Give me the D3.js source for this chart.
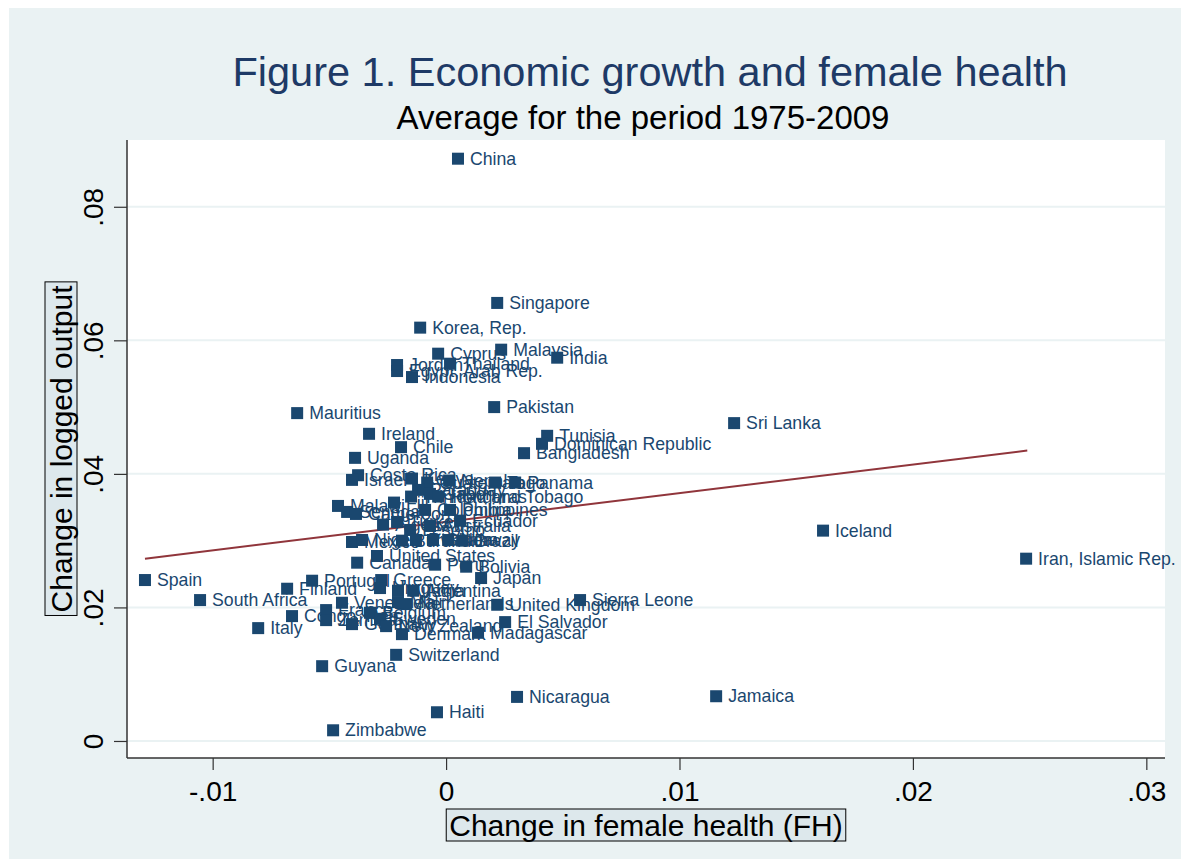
<!DOCTYPE html>
<html lang="en">
<head>
<meta charset="utf-8">
<title>Figure 1</title>
<script src="https://cdn.jsdelivr.net/npm/d3@7"></script>
<style>
  body { margin: 0; background: #fff; }
  text { font-family: "Liberation Sans", Arial, sans-serif; }
</style>
</head>
<body>
<div id="chart"></div>
<script type="text/javascript">
// country labels, change in female health (x), change in logged output (y)
var countries = ["China","Singapore","Korea, Rep.","Malaysia","India","Cyprus","Jordan","Egypt, Arab Rep.","Thailand","Indonesia",
  "Pakistan","Sri Lanka","Mauritius","Ireland","Tunisia","Dominican Republic","Chile","Bangladesh","Uganda","Costa Rica",
  "Israel","Kenya","Guatemala","Nepal","Togo","Panama","Paraguay","Gabon","Trinidad and Tobago","Honduras",
  "Malawi","Fiji","Philippines","Colombia","Senegal","Cameroon","Ecuador","Algeria","Turkey","Australia",
  "Lesotho","Mexico","Niger","Brazil","Norway","Burundi","Rwanda","Ghana","United States","Canada",
  "Peru","Bolivia","Japan","Spain","Portugal","Greece","Finland","Uruguay","Argentina","Austria",
  "South Africa","Sierra Leone","Venezuela","Netherlands","Mali","United Kingdom","France","Belgium","Congo, Rep.","Sweden",
  "Germany","Zambia","New Zealand","El Salvador","Italy","Madagascar","Denmark","Switzerland","Guyana","Nicaragua",
  "Jamaica","Haiti","Zimbabwe","Iceland","Iran, Islamic Rep."];
var fhChange = [0.00051,0.00219,-0.00111,0.00236,0.00476,-0.00034,-0.00210,-0.00210,0.00017,-0.00146,
  0.00206,0.01234,-0.00638,-0.00330,0.00433,0.00411,-0.00193,0.00334,-0.00390,-0.00377,
  -0.00403,-0.00146,-0.00081,0.00013,0.00210,0.00296,-0.00120,-0.00069,-0.00150,-0.00034,
  -0.00463,-0.00223,0.00017,-0.00090,-0.00424,-0.00386,0.00060,-0.00270,-0.00210,-0.00069,
  -0.00154,-0.00403,-0.00360,0.00069,0.00009,-0.00189,-0.00129,-0.00056,-0.00296,-0.00381,
  -0.00047,0.00086,0.00150,-0.01290,-0.00574,-0.00278,-0.00681,-0.00283,-0.00141,-0.00206,
  -0.01054,0.00574,-0.00446,-0.00171,-0.00206,0.00219,-0.00514,-0.00326,-0.00660,-0.00283,
  -0.00403,-0.00514,-0.00257,0.00253,-0.00805,0.00137,-0.00189,-0.00214,-0.00531,0.00304,
  0.01157,-0.00039,-0.00484,0.01615,0.02485];
var outputChange = [0.0872,0.0656,0.0619,0.0586,0.0574,0.0580,0.0563,0.0554,0.0565,0.0545,
  0.0500,0.0476,0.0491,0.0460,0.0457,0.0445,0.0440,0.0431,0.0424,0.0398,
  0.0391,0.0393,0.0387,0.0390,0.0387,0.0387,0.0376,0.0370,0.0366,0.0366,
  0.0352,0.0357,0.0346,0.0346,0.0343,0.0340,0.0330,0.0324,0.0328,0.0322,
  0.0316,0.0298,0.0301,0.0300,0.0301,0.0300,0.0301,0.0301,0.0277,0.0267,
  0.0264,0.0261,0.0244,0.0241,0.0240,0.0241,0.0228,0.0229,0.0225,0.0225,
  0.0211,0.0211,0.0207,0.0205,0.0208,0.0204,0.0196,0.0192,0.0187,0.0183,
  0.0175,0.0181,0.0172,0.0178,0.0169,0.0162,0.0160,0.0129,0.0112,0.0066,
  0.0067,0.0043,0.0016,0.0315,0.0273];
// fitted line endpoints
var fitX = [-0.0129, 0.0249];
var fitY = [0.0273, 0.0435];
var xTicks = [-0.01, 0, 0.01, 0.02, 0.03];
var xTickLabels = ["-.01", "0", ".01", ".02", ".03"];
var yTicks = [0, 0.02, 0.04, 0.06, 0.08];
var yTickLabels = ["0", ".02", ".04", ".06", ".08"];

(function() {
var W = 1189, H = 867;
var pLeft = 127, pRight = 1165, pTop = 140, pBottom = 758;
var navy = "#1a476f", bg = "#eaf2f3";

var svg = d3.select("#chart").append("svg")
    .attr("width", W).attr("height", H);

svg.append("rect")
    .attr("x", 9).attr("y", 8)
    .attr("width", W - 17).attr("height", H - 16)
    .attr("fill", bg);

var x = d3.scaleLinear().domain([-0.01367, 0.0308]).range([pLeft, pRight]);
var y = d3.scaleLinear().domain([-0.00255, 0.0900]).range([pBottom, pTop]);

svg.append("rect")
    .attr("x", pLeft).attr("y", pTop)
    .attr("width", pRight - pLeft).attr("height", pBottom - pTop)
    .attr("fill", "#fff");

// gridlines
svg.append("g").selectAll("line")
    .data(yTicks)
    .enter().append("line")
    .attr("x1", pLeft).attr("x2", pRight)
    .attr("y1", function(d) { return y(d); })
    .attr("y2", function(d) { return y(d); })
    .attr("stroke", bg).attr("stroke-width", 2);

// axes
var xAxis = d3.axisBottom(x).tickValues(xTicks).tickSize(12).tickPadding(11)
    .tickFormat(function(d, i) { return xTickLabels[i]; });
var gx = svg.append("g").attr("transform", "translate(0," + pBottom + ")").call(xAxis);
gx.select(".domain").attr("d", "M" + pLeft + ",0H" + pRight).attr("stroke", "#333").attr("stroke-width", 1.5);
gx.selectAll(".tick line").attr("stroke", "#333").attr("stroke-width", 1.2);
gx.selectAll(".tick text")
    .attr("font-size", 28).attr("fill", "#000")
    .attr("font-family", "Liberation Sans, Arial, sans-serif");

var yAxis = d3.axisLeft(y).tickValues(yTicks).tickSize(13).tickPadding(0)
    .tickFormat(function(d, i) { return yTickLabels[i]; });
var gy = svg.append("g").attr("transform", "translate(" + pLeft + ",0)").call(yAxis);
gy.select(".domain").attr("d", "M0," + pTop + "V" + pBottom).attr("stroke", "#333").attr("stroke-width", 1.5);
gy.selectAll(".tick line").attr("stroke", "#333").attr("stroke-width", 1.2);
gy.selectAll(".tick text")
    .attr("x", 0).attr("dy", null)
    .attr("transform", "translate(-24,0) rotate(-90)")
    .attr("text-anchor", "middle")
    .attr("font-size", 28).attr("fill", "#000")
    .attr("font-family", "Liberation Sans, Arial, sans-serif");

// fitted line
svg.append("path")
    .datum(d3.zip(fitX, fitY))
    .attr("d", d3.line().x(function(d) { return x(d[0]); }).y(function(d) { return y(d[1]); }))
    .attr("stroke", "#90353b").attr("stroke-width", 2).attr("fill", "none");

// points with labels
var pts = countries.map(function(c, i) { return { name: c, fh: fhChange[i], out: outputChange[i] }; });
var pt = svg.append("g").selectAll("g")
    .data(pts)
    .enter().append("g")
    .attr("transform", function(d) { return "translate(" + x(d.fh) + "," + y(d.out) + ")"; });
pt.append("rect")
    .attr("x", -6).attr("y", -6).attr("width", 12).attr("height", 12)
    .attr("fill", navy);
pt.append("text")
    .attr("x", 12).attr("y", 6)
    .attr("font-size", 17.7).attr("fill", navy)
    .text(function(d) { return d.name; });

// titles
svg.append("text")
    .attr("x", (pLeft + pRight) / 2 + 4).attr("y", 86)
    .attr("text-anchor", "middle").attr("font-size", 41.5).attr("fill", "#1e3a66")
    .text("Figure 1. Economic growth and female health");
svg.append("text")
    .attr("x", (pLeft + pRight) / 2 - 3).attr("y", 129)
    .attr("text-anchor", "middle").attr("font-size", 33).attr("fill", "#000")
    .text("Average for the period 1975-2009");

// axis titles with boxes
function boxedTitle(txt, cx, cy, rot) {
    var g = svg.append("g").attr("transform", "translate(" + cx + "," + cy + ") rotate(" + rot + ")");
    var t = g.append("text")
        .attr("text-anchor", "middle").attr("y", 11)
        .attr("font-size", 30).attr("fill", "#000")
        .text(txt);
    var b = t.node().getBBox();
    g.insert("rect", "text")
        .attr("x", b.x - 3).attr("y", -16)
        .attr("width", b.width + 6).attr("height", 32)
        .attr("fill", "#dde8ec").attr("stroke", "#000").attr("stroke-width", 1);
}
boxedTitle("Change in female health (FH)", (pLeft + pRight) / 2, 825, 0);
boxedTitle("Change in logged output", 61, (pTop + pBottom) / 2, -90);
})();
</script>
</body>
</html>
